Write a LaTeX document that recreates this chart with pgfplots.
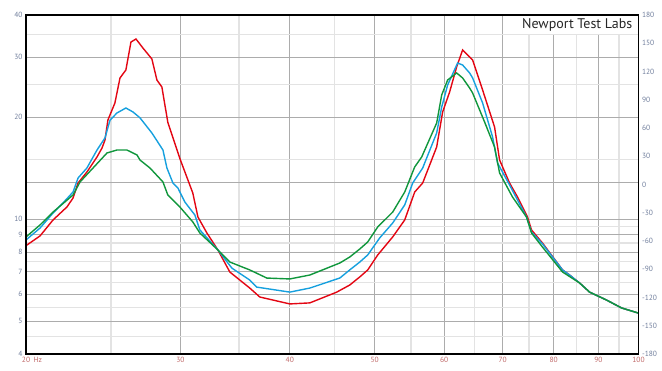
\documentclass[border=0pt]{standalone}
\usepackage{pgfplots}
\pgfplotsset{compat=1.18}
\usepackage{fontspec}
\setmainfont{PT Sans}
\definecolor{cred}{RGB}{227,6,19}
\definecolor{cblue}{RGB}{22,160,222}
\definecolor{cgreen}{RGB}{16,150,60}
\definecolor{ylab}{RGB}{112,126,156}
\definecolor{xlab}{RGB}{192,104,104}
\begin{document}
\begin{tikzpicture}
\useasboundingbox (-26pt,-17pt) rectangle (636pt,354pt);
\begin{axis}[
  scale only axis, width=612.5pt, height=339pt,
  xmode=log, ymode=log,
  xmin=20, xmax=100, ymin=4, ymax=40,
  xtick={20,30,40,50,60,70,80,90,100},
  xticklabels={20\rlap{\hspace{3.5pt}Hz},30,40,50,60,70,80,90,100},
  minor xtick={25,35,45,55,65,75,85,95},
  ytick={4,5,6,7,8,9,10,20,30,40},
  yticklabels={4,5,6,7,8,9,10,20,30,40},
  minor ytick={4.5,5.5,6.5,7.5,8.5,9.5,15,25,35},
  extra y ticks={12.8}, extra y tick labels={},
  extra y tick style={grid style={gray!22, line width=1.2pt}},
  grid=both,
  major grid style={gray!65, line width=0.7pt},
  minor grid style={gray!22, line width=1.2pt},
  major tick length=0pt, minor tick length=0pt,
  axis line style={draw=none},
  xticklabel style={font=\fontsize{7.5}{8}\selectfont, text=xlab},
  yticklabel style={font=\fontsize{7.5}{8}\selectfont, text=ylab},
  /pgf/number format/assume math mode=true,
  clip=true,
]
\addplot[cred, line width=1.4pt] coordinates {
(20.00,8.35) (20.75,8.92) (21.47,9.94) (22.27,10.86) (22.63,11.54) (22.93,12.78) (23.47,13.77) (24.10,15.25) (24.42,16.21) (24.61,17.11) (24.80,19.60) (25.26,22.00) (25.60,26.08) (26.00,27.53) (26.35,33.30) (26.70,33.98) (27.19,31.97) (27.84,29.67) (28.21,25.72) (28.58,24.53) (29.03,19.3) (29.96,15.1) (31.00,11.94) (31.42,10.14) (32.17,9.10) (33.11,8.11) (34.17,6.98) (36.01,6.26) (36.97,5.89) (40.00,5.62) (42.16,5.66) (45.25,6.09) (46.82,6.39) (48.07,6.75) (49.09,7.08) (50.40,7.84) (52.42,8.86) (54.10,9.94) (55.54,12.02) (56.72,12.78) (58.84,16.32) (59.77,20.70) (60.88,23.71) (62.01,28.10) (62.99,31.54) (64.67,29.47) (66.39,24.03) (68.51,18.69) (69.42,14.94) (71.26,12.78) (72.77,11.62) (74.71,10.14) (75.50,9.29) (77.71,8.50) (81.91,7.08) (83.44,6.84) (85.66,6.48) (87.94,6.09) (91.95,5.77) (95.63,5.47) (100,5.28)
};
\addplot[cblue, line width=1.4pt] coordinates {
(20.00,8.68) (20.75,9.41) (21.47,10.42) (22.04,11.16) (22.63,12.02) (22.93,13.22) (23.47,14.15) (24.10,15.99) (24.61,17.35) (24.94,19.60) (25.40,20.56) (26.00,21.27) (26.49,20.70) (26.98,19.9) (27.84,17.95) (28.66,15.99) (28.96,14.15) (29.42,12.78) (29.81,12.35) (30.36,11.23) (31.17,10.28) (31.58,9.29) (33.11,8.11) (34.35,7.17) (36.01,6.61) (36.68,6.30) (40.00,6.09) (42.16,6.26) (45.61,6.70) (46.82,7.08) (48.07,7.47) (49.09,7.84) (50.66,8.80) (52.42,9.74) (54.10,11.01) (55.25,12.78) (56.72,14.15) (58.84,17.95) (59.62,21.41) (60.56,24.86) (62.17,28.87) (62.99,28.48) (64.16,26.98) (64.67,26.08) (66.39,22.00) (68.15,17.47) (69.05,14.64) (71.26,12.61) (74.51,10.14) (75.50,9.16) (77.71,8.45) (81.91,7.08) (83.44,6.84) (85.66,6.48) (87.94,6.09) (91.95,5.77) (95.63,5.47) (100,5.28)
};
\addplot[cgreen, line width=1.4pt] coordinates {
(20.00,8.86) (20.75,9.61) (21.47,10.49) (22.63,11.78) (23.05,12.87) (23.85,14.15) (24.74,15.67) (25.40,15.99) (26.07,15.99) (26.77,15.46) (26.98,14.94) (27.70,14.15) (28.66,12.87) (29.03,11.78) (29.96,10.86) (31.00,9.81) (31.58,9.10) (33.11,8.11) (34.17,7.47) (36.01,7.08) (37.66,6.70) (40.00,6.66) (42.16,6.84) (45.61,7.42) (46.82,7.73) (48.07,8.16) (49.09,8.56) (50.40,9.48) (52.42,10.49) (54.10,12.02) (55.54,14.25) (56.57,15.25) (58.84,19.21) (59.62,23.23) (60.56,25.72) (62.01,26.98) (62.99,26.08) (64.16,24.36) (64.67,23.55) (66.74,19.34) (68.51,16.32) (69.42,13.68) (71.82,11.62) (74.51,10.14) (75.50,9.10) (77.71,8.27) (81.91,6.98) (85.66,6.48) (87.94,6.09) (91.95,5.77) (95.63,5.47) (100,5.28)
};
\node[anchor=north east, fill=white, inner xsep=6pt, inner ysep=0pt, minimum height=19pt,
  font=\fontsize{14}{16}\selectfont, text=black!85] at (axis description cs:1,1) {Newport Test Labs};
\node[anchor=south west, font=\fontsize{7}{8}\selectfont, text=ylab, inner sep=0pt] at ([xshift=2pt,yshift=4pt]axis description cs:0,1) {Ohm};
\end{axis}
\begin{axis}[
  scale only axis, width=612.5pt, height=339pt,
  xmode=log, xmin=20, xmax=100, ymin=-180, ymax=180,
  xtick=\empty, ytick pos=right,
  ytick={-180,-150,-120,-90,-60,-30,0,30,60,90,120,150,180},
  yticklabels={-180,-150,-120,-90,-60,-30,0,30,60,90,120,150,180},
  major tick length=0pt,
  axis line style={line width=1.6pt, black},
  yticklabel style={font=\fontsize{7.5}{8}\selectfont, text=ylab},
  /pgf/number format/assume math mode=true,
]
\addplot[draw=none] coordinates {(20,0)};
\node[anchor=south east, font=\fontsize{7}{8}\selectfont, text=ylab, inner sep=0pt] at ([xshift=0pt,yshift=4pt]axis description cs:1,1) {Deg};
\end{axis}
\end{tikzpicture}
\end{document}
